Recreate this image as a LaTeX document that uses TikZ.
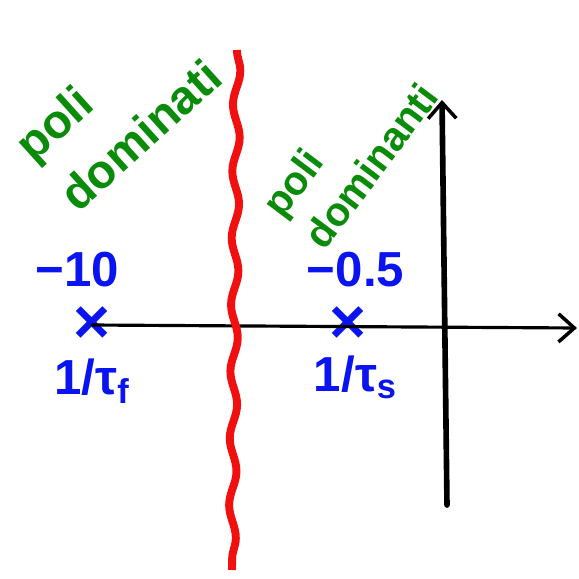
\documentclass[tikz,border=0pt]{standalone}
\usepackage{fontspec}
\setmainfont{Liberation Sans}
\usetikzlibrary{arrows.meta, positioning, decorations.pathmorphing}
\definecolor{skBlue}{HTML}{0A14F0}
\definecolor{skGreen}{HTML}{0A8C0A}
\definecolor{skRed}{HTML}{F01010}

\begin{document}
\begin{tikzpicture}[x=0.02cm, y=-0.02cm,
  node distance=0.3cm and 0.2cm,
  every node/.style={align=center},
  pole/.style={text=skBlue, font=\fontsize{36}{36}\selectfont\bfseries, inner sep=0pt},
  val/.style={text=skBlue, font=\fontsize{28}{30}\selectfont\bfseries, inner sep=1pt},
  zone/.style={text=skGreen, font=\fontsize{23}{30}\selectfont\bfseries, align=left, inner sep=0pt},
  axis/.style={-{Straight Barb[length=9pt, width=16pt, line width=2pt]}, line cap=round},
  wall/.style={draw=skRed, line width=4.5pt, decorate,
               decoration={snake, amplitude=2pt, segment length=38pt}}
]
  \useasboundingbox (0,0) rectangle (579,579);

  % poles on the real axis
  \node[pole] (pf) at (92,325) {×};
  \node[pole] (ps) at (348,325) {×};
  \node[val, above=0.35cm of pf, xshift=-0.3cm] (vf) {−10};
  \node[val, below=0.25cm of pf] (tf) {1/τ\textsubscript{f}};
  \node[val, above=0.35cm of ps, xshift=0.15cm] (vs) {−0.5};
  \node[val, below=0.2cm of ps, xshift=0.15cm] (ts) {1/τ\textsubscript{s}};

  % axes
  \coordinate (xend) at (577,328);
  \coordinate (ybot) at (447,505);
  \coordinate (ytop) at (442,100);
  \draw[axis, line width=1.8pt] (pf.center) -- (xend);
  \draw[axis, line width=3.2pt] (ybot) -- (ytop);

  % separation line
  \coordinate (wtop) at (237,50);
  \coordinate (wbot) at (232,570);
  \draw[wall] (wtop) -- (wbot);

  % regions
  \node[zone, rotate=42, font=\fontsize{27}{38}\selectfont\bfseries] (slow) at (118,110) {poli\\dominati};
  \node[zone, rotate=53] (fast) at (350,150) {poli\\dominanti};
\end{tikzpicture}
\end{document}
